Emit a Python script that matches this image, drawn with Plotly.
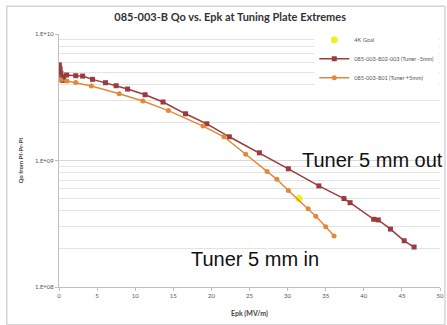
import plotly.graph_objects as go

# Tuner -5mm (802-003) series
red_x = [0.05, 0.15, 0.25, 0.35, 0.45, 0.6, 1.0, 2.2, 3.1, 4.4, 6.1, 7.5, 9.0, 11.3, 13.65,
         16.6, 19.4, 22.35, 26.3, 30.1, 34.1, 37.4, 38.2, 41.3, 41.9, 43.5, 45.3, 46.6]
red_y = [5.7e9, 5.3e9, 4.9e9, 4.5e9, 4.3e9, 4.6e9, 4.74e9, 4.68e9, 4.65e9, 4.38e9, 4.12e9, 3.9e9,
         3.67e9, 3.31e9, 2.9e9, 2.34e9, 1.95e9, 1.54e9, 1.15e9, 8.6e8, 6.3e8, 5.0e8, 4.64e8,
         3.43e8, 3.39e8, 2.87e8, 2.32e8, 2.07e8]

# Tuner +5mm (801) series
orange_x = [0.2, 1.05, 2.2, 4.25, 7.9, 11.0, 14.35, 18.9, 21.65, 24.5, 27.3, 28.6, 30.1,
            32.7, 33.7, 35.0, 36.1]
orange_y = [4.35e9, 4.25e9, 4.14e9, 3.88e9, 3.37e9, 2.95e9, 2.48e9, 1.87e9, 1.54e9, 1.12e9,
            8.2e8, 7.1e8, 5.8e8, 4.16e8, 3.62e8, 3.0e8, 2.53e8]

# 4K goal
goal_x = [31.5]
goal_y = [5.0e8]

tick_vals = [1e8, 1e9, 1e10]
tick_text = ["1.E+08", "1.E+09", "1.E+10"]
x_ticks = [0, 5, 10, 15, 20, 25, 30, 35, 40, 45, 50]

RED = "#9A3B3F"
ORANGE = "#E0893A"

fig = go.Figure()
fig.add_trace(go.Scatter(x=goal_x, y=goal_y, mode="markers", name="4K Goal",
                         marker=dict(color="#F0F020", size=7, symbol="circle")))
fig.add_trace(go.Scatter(x=red_x, y=red_y, mode="lines+markers",
                         name="085-003-802-003 (Tuner -5mm)",
                         line=dict(color=RED, width=1.5),
                         marker=dict(color=RED, size=5, symbol="square")))
fig.add_trace(go.Scatter(x=orange_x, y=orange_y, mode="lines+markers",
                         name="085-003-801 (Tuner +5mm)",
                         line=dict(color=ORANGE, width=1.5),
                         marker=dict(color=ORANGE, size=5, symbol="circle")))

fig.update_layout(
    width=447, height=325,
    margin=dict(l=59, r=7, t=34, b=38, autoexpand=False),
    paper_bgcolor="white", plot_bgcolor="white",
    font=dict(family="Lato, Liberation Sans, sans-serif", color="#555555", size=6),
    title=dict(text="<b>085-003-B Qo vs. Epk at Tuning Plate Extremes</b>",
               x=0.515, xanchor="center", y=0.947, yanchor="middle",
               font=dict(size=11, color="#333333", family="Lato, sans-serif")),
    showlegend=True,
    legend=dict(x=0.67, y=1.035, xanchor="left", yanchor="top",
                bgcolor="rgba(255,255,255,0.95)", font=dict(size=5.6, color="#555555"),
                tracegroupgap=0, itemwidth=30, borderwidth=0),
    xaxis=dict(range=[0, 50], tickvals=x_ticks, showgrid=False, showline=True,
               linecolor="#BFBFBF", linewidth=1, ticks="outside", ticklen=3,
               tickcolor="#BFBFBF", zeroline=False,
               title=dict(text="<b>Epk (MV/m)</b>", font=dict(size=7, color="#444444"),
                          standoff=12)),
    yaxis=dict(type="log", range=[8, 10], tickvals=tick_vals, ticktext=tick_text,
               showgrid=True, gridcolor="#D9D9D9", gridwidth=1,
               showline=True, linecolor="#BFBFBF", linewidth=1,
               ticks="outside", ticklen=3, tickcolor="#BFBFBF", zeroline=False,
               minor=dict(showgrid=True, gridcolor="#E3E3E3", gridwidth=1, dtick="D1"),
               title=dict(text="<b>Qo from Pf-Pr-Pt</b>", font=dict(size=6, color="#444444"),
                          standoff=10)),
)

fig.add_annotation(x=41.2, y=9.004, xref="x", yref="y", text="Tuner 5 mm out",
                   showarrow=False, font=dict(size=20, color="#111111",
                                              family="Liberation Sans, Arial, sans-serif"))
fig.add_annotation(x=25.7, y=8.221, xref="x", yref="y", text="Tuner 5 mm in",
                   showarrow=False, font=dict(size=20, color="#111111",
                                              family="Liberation Sans, Arial, sans-serif"))

fig.add_shape(type="rect", xref="paper", yref="paper",
              x0=-0.137, x1=1.013, y0=-0.15, y1=1.11,
              line=dict(color="#BFBFBF", width=1))

fig.write_html("out.html")
